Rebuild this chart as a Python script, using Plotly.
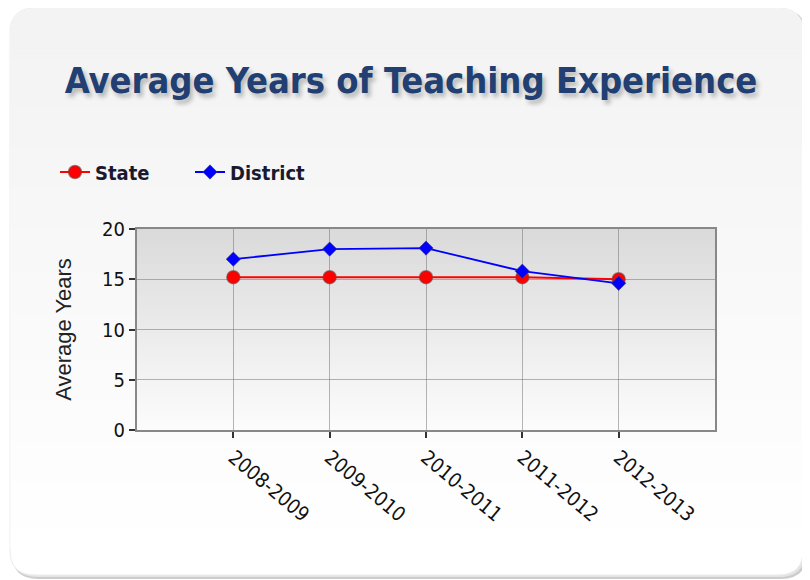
import plotly.graph_objects as go

years = ["2008-2009", "2009-2010", "2010-2011", "2011-2012", "2012-2013"]
state = [15.2, 15.2, 15.2, 15.2, 15.0]
district = [17.0, 18.0, 18.1, 15.8, 14.6]
y_ticks = [0, 5, 10, 15, 20]

# the page body has an 8px margin; work in page pixels and convert
O = 8
W, H = 810 - O, 580 - O
PL, PR, PT, PB = 137, 715, 229, 430          # plot area in page pixels
L, T = PL - O, PT - O
R, B = (W + O) - PR, (H + O) - PB
PW, PH = PR - PL, PB - PT


def px(x):
    return (x - PL) / PW


def py(y):
    return 1 - (y - PT) / PH


def rrect(x0, y0, x1, y1, r, top=True, bottom=True):
    def P(x, y):
        return f"{px(x):.5f},{py(y):.5f}"
    rt = r if top else 0
    rb = r if bottom else 0
    d = f"M {P(x0 + rt, y0)} L {P(x1 - rt, y0)} "
    if rt:
        d += f"Q {P(x1, y0)} {P(x1, y0 + rt)} "
    d += f"L {P(x1, y1 - rb)} "
    if rb:
        d += f"Q {P(x1, y1)} {P(x1 - rb, y1)} "
    d += f"L {P(x0 + rb, y1)} "
    if rb:
        d += f"Q {P(x0, y1)} {P(x0, y1 - rb)} "
    d += f"L {P(x0, y0 + rt)} "
    if rt:
        d += f"Q {P(x0, y0)} {P(x0 + rt, y0)} "
    d += "Z"
    return d


def mix(c0, c1, t):
    return "rgb(" + ",".join(str(round(a + (b - a) * t)) for a, b in zip(c0, c1)) + ")"


shapes = []
# card shadow
shapes.append(dict(type="path", xref="paper", yref="paper", layer="below",
                   path=rrect(12, 10, 807, 579, 26), fillcolor="rgb(205,205,205)",
                   line=dict(width=0)))
shapes.append(dict(type="path", xref="paper", yref="paper", layer="below",
                   path=rrect(11, 9, 805, 577, 26), fillcolor="rgb(228,228,228)",
                   line=dict(width=0)))
# card body with vertical gradient
CX0, CY0, CX1, CY1 = 10, 8, 803, 575
top_c, bot_c = (243, 243, 243), (255, 255, 255)
shapes.append(dict(type="path", xref="paper", yref="paper", layer="below",
                   path=rrect(CX0, CY0, CX1, CY1, 25), fillcolor=mix(top_c, bot_c, 1),
                   line=dict(width=1, color="rgb(236,236,236)")))
shapes.append(dict(type="path", xref="paper", yref="paper", layer="below",
                   path=rrect(CX0 + 0.5, CY0 + 0.5, CX1 - 0.5, 40, 25, bottom=False),
                   fillcolor=mix(top_c, bot_c, 0), line=dict(width=0)))
n = 100
y_start, y_end = 40, 548
for i in range(n):
    a = y_start + (y_end - y_start) * i / n
    b = y_start + (y_end - y_start) * (i + 1) / n + 0.6
    shapes.append(dict(type="rect", xref="paper", yref="paper", layer="below",
                       x0=px(CX0 + 0.5), x1=px(CX1 - 0.5), y0=py(a), y1=py(b),
                       fillcolor=mix(top_c, bot_c, (i + 0.5) / n), line=dict(width=0)))

# plot-area gradient
m = 60
pt, pb = (218, 218, 218), (252, 252, 252)
for i in range(m):
    y1 = 1 - i / m
    y0 = 1 - (i + 1) / m - 0.004
    shapes.append(dict(type="rect", xref="x domain", yref="y domain", layer="below",
                       x0=0, x1=1, y0=max(y0, 0), y1=y1,
                       fillcolor=mix(pt, pb, (i + 0.5) / m), line=dict(width=0)))

fig = go.Figure()
fig.add_trace(go.Scatter(
    x=years, y=state, name="State", mode="lines+markers",
    line=dict(color="#ff0000", width=2),
    marker=dict(symbol="circle", size=13, color="#ff0000",
                line=dict(color="rgba(120,60,60,0.6)", width=1.5)),
))
fig.add_trace(go.Scatter(
    x=years, y=district, name="District", mode="lines+markers",
    line=dict(color="#0000ff", width=1.8),
    marker=dict(symbol="diamond", size=11, color="#0000ff",
                line=dict(color="rgba(60,60,120,0.6)", width=1)),
))

font_main = "DejaVu Sans Condensed, DejaVu Sans, sans-serif"

fig.update_layout(
    width=W, height=H,
    margin=dict(l=L, r=R, t=T, b=B, pad=0),
    paper_bgcolor="white",
    plot_bgcolor="rgba(0,0,0,0)",
    shapes=shapes,
    title=dict(text="<b>Average Years of Teaching Experience</b>",
               x=px(411), xref="paper", xanchor="center",
               y=1 - (80 - O) / H, yanchor="middle",
               font=dict(family=font_main, size=36, color="#213f72",
                         shadow="3px 4px 4px #b8b8b8")),
    legend=dict(orientation="h", x=px(55), y=py(172), xanchor="left", yanchor="middle",
                bgcolor="rgba(0,0,0,0)",
                font=dict(family=font_main, size=20, color="#1a1a2e", weight="bold"),
                itemwidth=30, entrywidth=90, tracegroupgap=0),
    showlegend=True,
)

fig.update_xaxes(
    type="category", range=[-1, 5],
    showgrid=True, gridcolor="rgba(110,110,110,0.5)", gridwidth=1.2,
    showline=True, linecolor="#888", linewidth=2, mirror=True,
    ticks="outside", ticklen=6, tickwidth=2, tickcolor="#333",
    tickangle=40,
    tickfont=dict(family=font_main, size=20, color="#111"),
    zeroline=False,
)
fig.update_yaxes(
    range=[0, 20], tickvals=y_ticks,
    showgrid=True, gridcolor="rgba(110,110,110,0.5)", gridwidth=1.2,
    showline=True, linecolor="#888", linewidth=2, mirror=True,
    ticks="outside", ticklen=6, tickwidth=2, tickcolor="#333",
    tickfont=dict(family=font_main, size=20, color="#111"),
    title=dict(text="Average Years", standoff=24,
               font=dict(family="Liberation Sans, Arial, sans-serif", size=22, color="#222")),
    zeroline=False,
)

fig.write_html("out.html")
